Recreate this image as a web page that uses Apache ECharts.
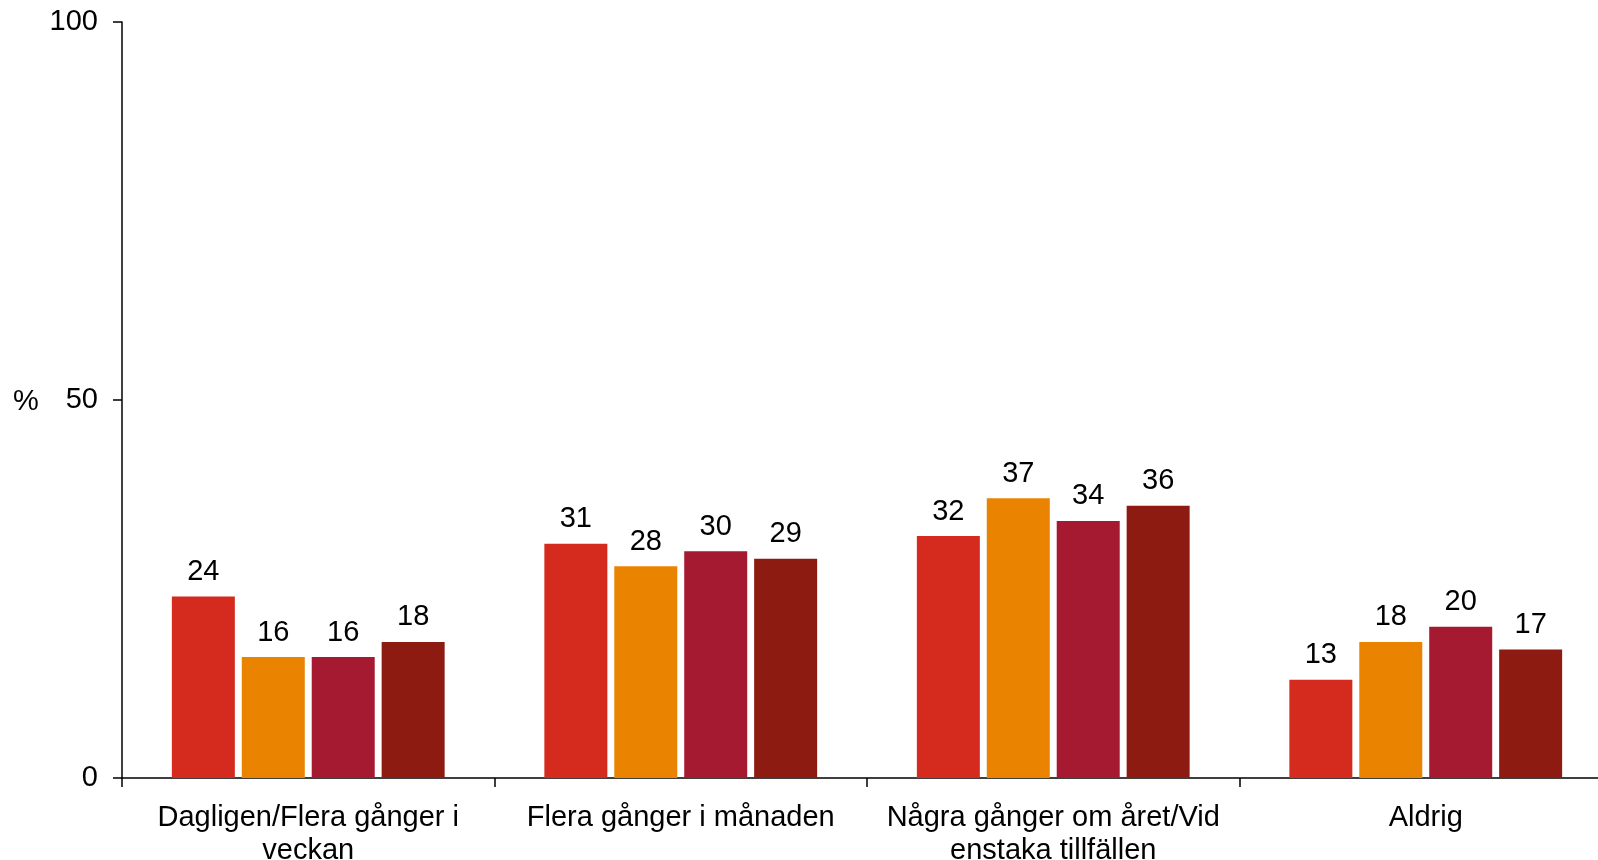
<!DOCTYPE html>
<html><head><meta charset="utf-8">
<script src="https://cdn.jsdelivr.net/npm/echarts@6/dist/echarts.min.js"></script>
<style>html,body{margin:0;padding:0;background:#fff}#c{width:1598px;height:860px}</style>
</head><body><div id="c"></div>
<script>
const categories = ['Dagligen/Flera gånger i\nveckan', 'Flera gånger i månaden', 'Några gånger om året/Vid\nenstaka tillfällen', 'Aldrig'];
const seriesNames = ['Serie 1', 'Serie 2', 'Serie 3', 'Serie 4'];
const series1 = [24, 31, 32, 13];
const series2 = [16, 28, 37, 18];
const series3 = [16, 30, 34, 20];
const series4 = [18, 29, 36, 17];
const yTicks = [0, 50, 100];
const colors = ['#D52B1E', '#E98300', '#A51931', '#8E1B12'];

const font = 'Liberation Sans, Arial, sans-serif';
const chart = echarts.init(document.getElementById('c'));
const mk = (name, data, i) => ({
  name, type: 'bar', data, barWidth: 63, barGap: '11%',
  itemStyle: { color: colors[i] },
  label: { show: true, position: 'top', distance: 10, color: '#000', fontFamily: font, fontSize: 29 }
});
chart.setOption({
  animation: false,
  grid: { left: 122, width: 1490, top: 22, height: 756, containLabel: false, outerBoundsMode: 'none' },
  xAxis: {
    type: 'category', data: categories,
    axisLine: { lineStyle: { color: '#000', width: 1.5 } },
    axisTick: { show: true, length: 9, lineStyle: { color: '#000', width: 1.5 } },
    axisLabel: { color: '#000', fontFamily: font, fontSize: 29, lineHeight: 33, margin: 23, interval: 0 }
  },
  yAxis: {
    type: 'value', min: yTicks[0], max: yTicks[yTicks.length - 1], interval: 50,
    axisLine: { show: true, lineStyle: { color: '#000', width: 1.5 } },
    axisTick: { show: true, length: 9, lineStyle: { color: '#000', width: 1.5 } },
    splitLine: { show: false },
    axisLabel: { color: '#000', fontFamily: font, fontSize: 29, margin: 24 }
  },
  graphic: [{ type: 'text', left: 13, top: 387, style: { text: '%', fill: '#000', font: '29px ' + font } }],
  series: [mk(seriesNames[0], series1, 0), mk(seriesNames[1], series2, 1), mk(seriesNames[2], series3, 2), mk(seriesNames[3], series4, 3)]
});
</script></body></html>
